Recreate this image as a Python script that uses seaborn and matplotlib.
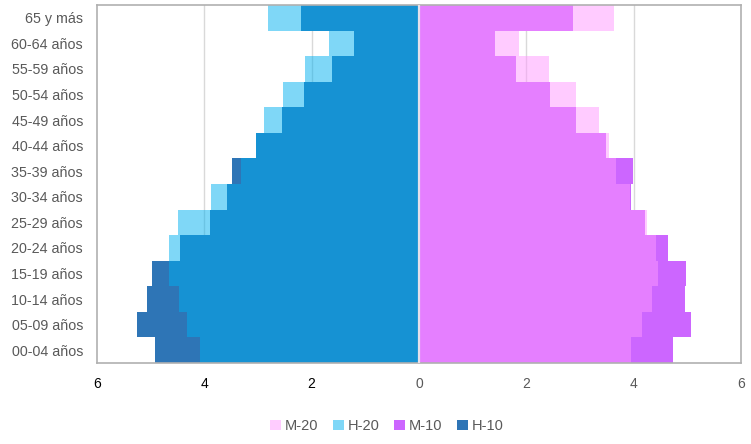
import matplotlib
matplotlib.use("Agg")
import matplotlib.pyplot as plt
from matplotlib.patches import Patch
import seaborn as sns
import pandas as pd

# ---- data ----
ages = ["65 y más", "60-64 años", "55-59 años", "50-54 años", "45-49 años",
        "40-44 años", "35-39 años", "30-34 años", "25-29 años", "20-24 años",
        "15-19 años", "10-14 años", "05-09 años", "00-04 años"]
h20 = [2.81, 1.67, 2.12, 2.54, 2.88, 3.03, 3.32, 3.88, 4.49, 4.66, 4.65, 4.48, 4.33, 4.09]
h10 = [2.20, 1.21, 1.62, 2.14, 2.56, 3.03, 3.48, 3.58, 3.90, 4.45, 4.98, 5.06, 5.25, 4.92]
m20 = [3.63, 1.87, 2.43, 2.92, 3.36, 3.54, 3.68, 3.93, 4.24, 4.42, 4.46, 4.35, 4.16, 3.95]
m10 = [2.87, 1.42, 1.81, 2.45, 2.92, 3.48, 3.99, 3.95, 4.21, 4.64, 4.98, 4.96, 5.06, 4.73]
xticks = [-6, -4, -2, 0, 2, 4, 6]
xtick_labels = ["6", "4", "2", "0", "2", "4", "6"]
series_names = ["M-20", "H-20", "M-10", "H-10"]

df = pd.DataFrame({
    "age": ages * 4,
    "value": [-v for v in h10] + [-v for v in h20] + m10 + m20,
    "series": ["H-10"] * 14 + ["H-20"] * 14 + ["M-10"] * 14 + ["M-20"] * 14,
})

colors = {"H-10": "#2E75B6", "H-20": "#00B0F0", "M-10": "#CC66FF", "M-20": "#FF99FF"}
alphas = {"H-10": 1.0, "H-20": 0.5, "M-10": 1.0, "M-20": 0.5}

sns.set_theme(style="white")
plt.rcParams["font.family"] = ["Liberation Sans", "DejaVu Sans"]

fig = plt.figure(figsize=(7.51, 4.44), dpi=100)
ax = fig.add_axes([97 / 751, 1 - 363 / 444, (741 - 97) / 751, (363 - 5) / 444])

for s in ["H-10", "M-10", "H-20", "M-20"]:
    sub = df[df["series"] == s]
    sns.barplot(data=sub, x="value", y="age", order=ages, orient="h",
                color=colors[s], alpha=alphas[s], width=1.0, ax=ax,
                saturation=1, linewidth=0, errorbar=None)

ax.set_xlim(-6, 6)
ax.set_ylim(13.5, -0.5)
ax.set_xticks(xticks)
ax.set_xticklabels(xtick_labels)
for i, lab in enumerate(ax.get_xticklabels()):
    lab.set_color("#000000" if xticks[i] < 0 else "#595959")
ax.tick_params(axis="x", length=0, pad=10, labelsize=10)
ax.tick_params(axis="y", length=0, pad=10, labelsize=10.3, labelcolor="#595959")
ax.set_xlabel("")
ax.set_ylabel("")

for x in [-4, -2, 2, 4]:
    ax.axvline(x, color="#D9D9D9", lw=1, zorder=0.5)
ax.axvline(0, color="#E6E0EA", lw=1.6, zorder=5)
ax.set_axisbelow(True)

for sp in ax.spines.values():
    sp.set_color("#B0B0B0")
    sp.set_linewidth(1.2)

legend_colors = {"M-20": "#FFCCFF", "H-20": "#7FD7F7", "M-10": "#CC66FF", "H-10": "#2E75B6"}
handles = [Patch(facecolor=legend_colors[s], edgecolor="none", label=s) for s in series_names]
fig.legend(handles=handles, loc="center", bbox_to_anchor=(0.515, 0.04), ncol=4,
           frameon=False, handlelength=0.75, handleheight=0.75, handletextpad=0.25,
           columnspacing=1.0, fontsize=10.5, labelcolor="#595959")

fig.savefig("out.png", dpi=100)
